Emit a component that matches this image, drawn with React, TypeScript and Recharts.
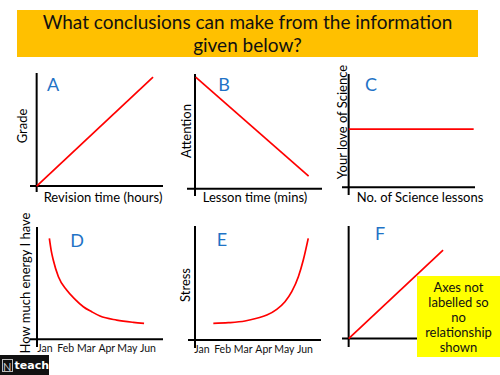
import React from "react";
import { LineChart, Line, XAxis, YAxis, ReferenceLine } from "recharts";

// slide copy
const title = ["What conclusions can make from the information", "given below?"];
const months = ["Jan", "Feb", "Mar", "Apr", "May", "Jun"];
const noteLines = ["Axes not", "labelled so", "no", "relationship", "shown"];

// series (origin = where the axes cross)
const gradeLine = [
  { x: 0, y: 0 },
  { x: 8.75, y: 9.15 },
];
const attentionLine = [
  { x: 0.05, y: 9.25 },
  { x: 8.5, y: 1.05 },
];
const loveLine = [
  { x: 0, y: 4.8 },
  { x: 9.4, y: 4.8 },
];
// x = month index (0 = Jan)
const energyCurve = [
  { x: 0.21, y: 8.99 },
  { x: 0.3, y: 7.9 },
  { x: 0.4, y: 7.06 },
  { x: 0.65, y: 5.57 },
  { x: 1.05, y: 4.38 },
  { x: 1.46, y: 3.55 },
  { x: 1.86, y: 2.89 },
  { x: 2.27, y: 2.44 },
  { x: 2.67, y: 2.06 },
  { x: 3.48, y: 1.7 },
  { x: 4.29, y: 1.5 },
  { x: 4.81, y: 1.41 },
];
const stressCurve = [
  { x: 0.55, y: 1.46 },
  { x: 1.28, y: 1.52 },
  { x: 2.09, y: 1.67 },
  { x: 2.66, y: 1.91 },
  { x: 3.15, y: 2.19 },
  { x: 3.63, y: 2.69 },
  { x: 4.03, y: 3.36 },
  { x: 4.36, y: 4.24 },
  { x: 4.68, y: 5.55 },
  { x: 4.92, y: 7.02 },
  { x: 5.16, y: 8.92 },
];
const unlabelledLine = [
  { x: 0, y: 0 },
  { x: 7.1, y: 7.3 },
];

const FONT = "Lato, 'Open Sans', sans-serif";
const RED = "#ff0000";
const BLUE = "#1f73c6";

type Pt = { x: number; y: number };

interface PanelProps {
  left: number;
  top: number;
  width: number;
  height: number;
  xDomain: [number, number];
  yDomain: [number, number];
  originX?: number;
  data: Pt[];
  curved?: boolean;
  withMonths?: boolean;
}

const MonthTick = (props: any) => {
  const { x, y, payload } = props;
  return (
    <text x={x} y={y} dy={5} textAnchor="middle" fontSize={10.5} fontFamily={FONT} fill="#111">
      {months[payload.value]}
    </text>
  );
};

function Panel({ left, top, width, height, xDomain, yDomain, originX = 0, data, curved, withMonths }: PanelProps) {
  const axisH = withMonths ? 10 : 0;
  return (
    <div style={{ position: "absolute", left, top }}>
      <LineChart width={width} height={height + axisH} data={data} margin={{ top: 0, right: 0, bottom: 0, left: 0 }}>
        <XAxis
          type="number"
          dataKey="x"
          domain={xDomain}
          hide={!withMonths}
          height={axisH}
          ticks={months.map((_, i) => i)}
          tick={<MonthTick />}
          axisLine={false}
          tickLine={false}
          tickSize={0}
          tickMargin={0}
          interval={0}
          allowDataOverflow
        />
        <YAxis type="number" domain={yDomain} hide allowDataOverflow />
        <ReferenceLine x={originX} stroke="#000" strokeWidth={2} />
        <ReferenceLine y={0} stroke="#000" strokeWidth={2} />
        <Line
          type={curved ? "monotone" : "linear"}
          dataKey="y"
          stroke={RED}
          strokeWidth={1.7}
          dot={false}
          isAnimationActive={false}
        />
      </LineChart>
    </div>
  );
}

const Txt = ({ x, y, children, rotate, size = 13, color = "#000" }: any) => (
  <div
    style={{
      position: "absolute",
      left: x,
      top: y,
      transform: `translate(-50%, -50%)${rotate ? " rotate(-90deg)" : ""}`,
      whiteSpace: "nowrap",
      fontSize: size,
      color,
      lineHeight: 1,
    }}
  >
    {children}
  </div>
);

export default function App() {
  return (
    <div
      style={{
        position: "absolute",
        left: 0,
        top: 0,
        width: 500,
        height: 375,
        background: "#fff",
        overflow: "hidden",
        fontFamily: FONT,
      }}
    >
      <div
        style={{
          position: "absolute",
          left: 17,
          top: 10,
          width: 461,
          height: 47,
          background: "#ffc000",
          textAlign: "center",
          fontSize: 19,
          lineHeight: "23px",
          color: "#111",
        }}
      >
        {title.map((t) => (
          <div key={t}>{t}</div>
        ))}
      </div>

      {/* top row */}
      <Panel left={30} top={73} width={133} height={119} xDomain={[-0.5, 9.5]} yDomain={[-0.5, 9.5]} data={gradeLine} />
      <Panel left={187} top={74} width={135} height={122} xDomain={[-0.6, 9.5]} yDomain={[-0.6, 9.5]} data={attentionLine} />
      <Panel left={342} top={74} width={133} height={121} xDomain={[-0.5, 9.5]} yDomain={[-0.65, 9.35]} data={loveLine} />

      {/* bottom row */}
      <Panel
        left={30}
        top={227}
        width={133}
        height={120}
        xDomain={[-0.73, 5.73]}
        yDomain={[-0.7, 10]}
        originX={-0.39}
        data={energyCurve}
        curved
        withMonths
      />
      <Panel
        left={188}
        top={226}
        width={133}
        height={122}
        xDomain={[-0.68, 5.78]}
        yDomain={[-0.7, 10]}
        originX={-0.34}
        data={stressCurve}
        curved
        withMonths
      />
      <Panel left={342} top={226} width={133} height={121} xDomain={[-0.5, 9.5]} yDomain={[-0.7, 9.3]} data={unlabelledLine} />

      {/* panel letters */}
      <Txt x={53} y={84} size={18} color={BLUE}>A</Txt>
      <Txt x={224} y={84} size={18} color={BLUE}>B</Txt>
      <Txt x={371} y={84} size={18} color={BLUE}>C</Txt>
      <Txt x={77} y={240} size={18} color={BLUE}>D</Txt>
      <Txt x={222} y={239} size={18} color={BLUE}>E</Txt>
      <Txt x={380} y={233} size={18} color={BLUE}>F</Txt>

      {/* axis titles */}
      <Txt x={22} y={126} rotate>Grade</Txt>
      <Txt x={103} y={197}>Revision time (hours)</Txt>
      <Txt x={186} y={131} rotate>Attention</Txt>
      <Txt x={255} y={197}>Lesson time (mins)</Txt>
      <Txt x={342} y={122} rotate>Your love of Science</Txt>
      <Txt x={420} y={197}>No. of Science lessons</Txt>
      <Txt x={25} y={283} rotate>How much energy I have</Txt>
      <Txt x={185} y={285} rotate>Stress</Txt>

      {/* note box */}
      <div
        style={{
          position: "absolute",
          left: 417,
          top: 276,
          width: 83,
          height: 81,
          background: "#ffff00",
          textAlign: "center",
          fontSize: 13,
          lineHeight: "15px",
          paddingTop: 4,
          boxSizing: "border-box",
          color: "#111",
        }}
      >
        {noteLines.map((t) => (
          <div key={t}>{t}</div>
        ))}
      </div>

      {/* logo */}
      <div
        style={{
          position: "absolute",
          left: 0,
          top: 355,
          width: 49,
          height: 20,
          background: "#111",
          display: "flex",
          alignItems: "center",
          gap: 2,
          paddingLeft: 2,
          boxSizing: "border-box",
        }}
      >
        <div
          style={{
            width: 12,
            height: 13,
            border: "1px solid #bbb",
            color: "#ccc",
            fontSize: 11,
            lineHeight: "13px",
            textAlign: "center",
            boxSizing: "border-box",
          }}
        >
          N
        </div>
        <span style={{ color: "#fff", fontWeight: 700, fontSize: 11, fontFamily: "'DejaVu Sans', sans-serif" }}>teach</span>
      </div>
    </div>
  );
}
